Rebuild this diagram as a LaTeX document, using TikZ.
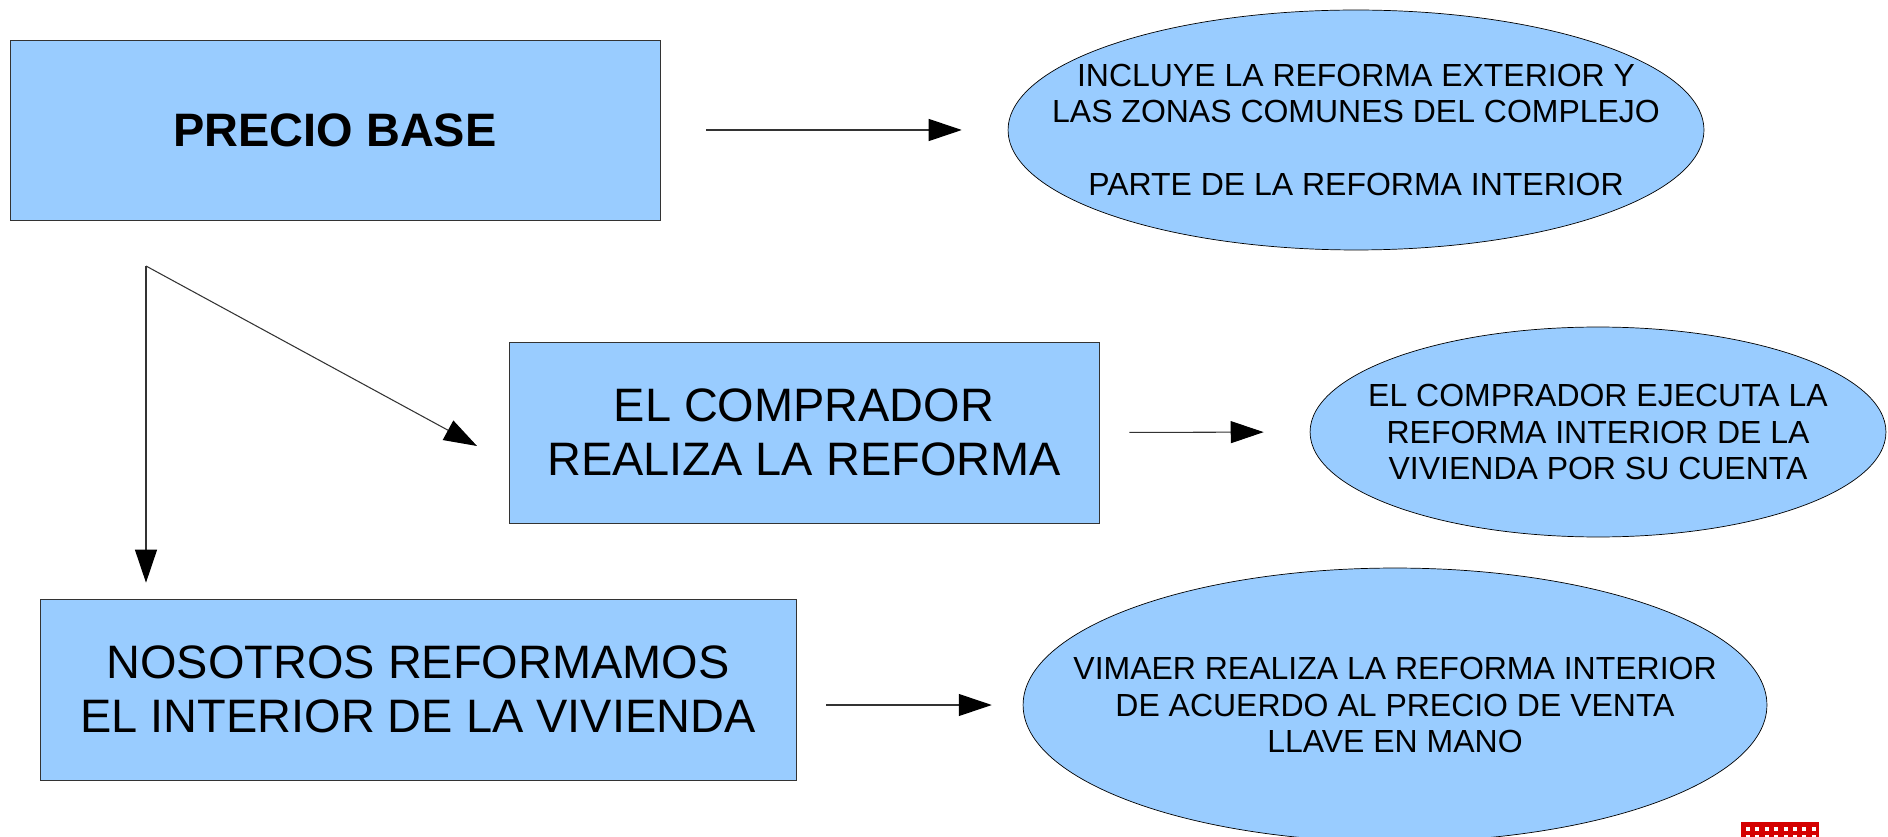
\documentclass[tikz,border=0pt]{standalone}
\usepackage{fontspec}
\setmainfont{Liberation Sans}
\usetikzlibrary{shapes,arrows.meta}
\definecolor{boxblue}{HTML}{99CCFF}
\definecolor{logored}{HTML}{D40000}

\begin{document}
\begin{tikzpicture}[x=0.02cm, y=-0.02cm, > = {Triangle[length=0.66cm,width=0.44cm,color=black]},
  box/.style = {draw=black!80, fill=boxblue, rectangle, inner sep=0, align=center,
                font=\fontsize{26.7pt}{30.7pt}\selectfont},
  bubble/.style = {draw=black, fill=boxblue, ellipse, inner sep=0},
  bubbletext/.style = {align=center, font=\fontsize{18.2pt}{20.5pt}\selectfont},
  link/.style = {->, draw=black!80, line width=0.6pt}]

\useasboundingbox (0,0) rectangle (1888,837);

% boxes
\node [box, minimum width=13cm, minimum height=3.6cm] (base) at (335,130) {\textbf{PRECIO BASE}};
\node [box, minimum width=11.8cm, minimum height=3.62cm] (buyer) at (804,432.5) {EL COMPRADOR\\REALIZA LA REFORMA};
\node [box, minimum width=15.12cm, minimum height=3.62cm] (diy) at (418,689.5) {NOSOTROS REFORMAMOS\\EL INTERIOR DE LA VIVIENDA};

% bubbles
\node [bubble, minimum width=13.92cm, minimum height=4.8cm,
       label={[bubbletext]center:{INCLUYE LA REFORMA EXTERIOR Y\\LAS ZONAS COMUNES DEL COMPLEJO\\[20.5pt]PARTE DE LA REFORMA INTERIOR}}] (incl) at (1356,130) {};
\node [bubble, minimum width=11.52cm, minimum height=4.2cm,
       label={[bubbletext]center:{EL COMPRADOR EJECUTA LA\\REFORMA INTERIOR DE LA\\VIVIENDA POR SU CUENTA}}] (own) at (1598,432) {};
\node [bubble, minimum width=14.88cm, minimum height=5.48cm,
       label={[bubbletext]center:{VIMAER REALIZA LA REFORMA INTERIOR\\DE ACUERDO AL PRECIO DE VENTA\\LLAVE EN MANO}}] (llave) at (1395,705) {};

% arrows to bubbles
\draw [link, shorten <=0.92cm, shorten >=0.92cm] (base.east) -- (incl.west);
\draw [link, shorten <=0.6cm, shorten >=0.92cm] (buyer.east) -- (own.west);
\draw [link, shorten <=0.6cm, shorten >=0.62cm] (diy.east |- llave.west) -- (llave.west);

% split below the base price
\coordinate (split) at (146,266);
\coordinate (buyerin) at (477,446);
\draw [link] (split) -- (buyerin);
\draw [link, shorten >=0.32cm] (split) -- (split |- diy.north);

% logo corner
\fill [logored] (1741,822) rectangle (1819,837);
\foreach \i in {0,...,7}
{
  \fill [white] (1746+9.4*\i,826.5) rectangle +(4,4);
  \fill [white] (1746+9.4*\i,834.5) rectangle +(4,4);
}
\end{tikzpicture}
\end{document}
